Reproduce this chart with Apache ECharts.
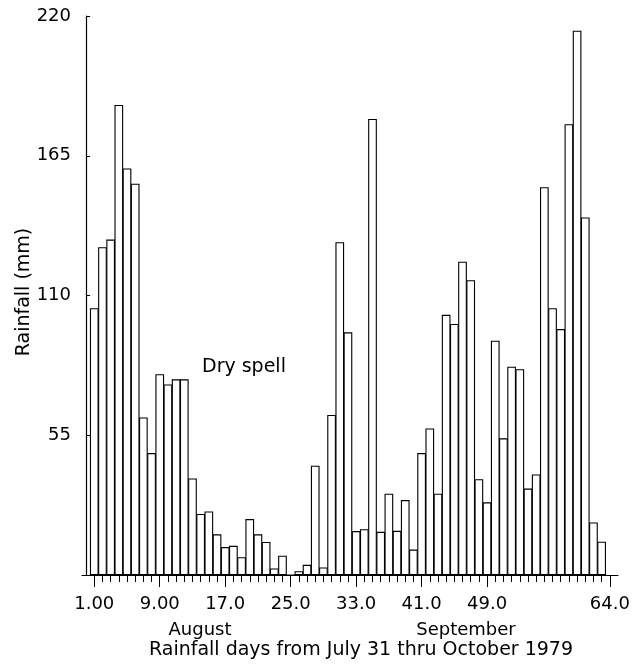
<!DOCTYPE html>
<html>
<head>
<meta charset="utf-8">
<script src="https://cdn.jsdelivr.net/npm/echarts@6/dist/echarts.min.js"></script>
<style>
html,body{margin:0;padding:0;background:#fff;}
#chart{width:640px;height:670px;}
</style>
</head>
<body>
<div id="chart"></div>
<script>
// Day numbers (x positions of bars)
const days = [1,2,3,4,5,6,7,8,9,10,11,12,13,14,15,16,17,18,19,20,21,22,23,24,25,26,27,28,29,30,31,32,33,34,35,36,37,38,39,40,41,42,43,44,45,46,47,48,49,50,51,52,53,54,55,56,57,58,59,60,61,62,63];
// Rainfall (mm) per day
const rainfall = [105,129,132,185,160,154,62,48,79,75,77,77,38,24,25,16,11,11.5,7,22,16,13,2.6,7.6,0,1.5,4,43,3,63,131,95.5,17.3,18,179.5,17,32,17.4,29.5,10,48,57.7,32,102.4,98.8,123.3,116,37.7,28.6,92.2,53.8,82,81,34,39.6,152.6,105,96.8,177.4,214.2,140.7,20.7,13.1];
// Minor ticks (every day) and labelled major ticks
const tickDays = [1,2,3,4,5,6,7,8,9,10,11,12,13,14,15,16,17,18,19,20,21,22,23,24,25,26,27,28,29,30,31,32,33,34,35,36,37,38,39,40,41,42,43,44,45,46,47,48,49,50,51,52,53,54,55,56,57,58,59,60,61,62,63,64];
const majorDays = [1,9,17,25,33,41,49,64];
const xTickLabels = ['1.00','9.00','17.0','25.0','33.0','41.0','49.0','64.0'];
const yTicks = [55,110,165,220];

const FONT = 'DejaVu Sans';
const chart = echarts.init(document.getElementById('chart'), null, {renderer:'canvas'});
const option = {
  animation: false,
  backgroundColor: '#fff',
  grid: {left: 82, right: 22, top: 16, bottom: 95},
  xAxis: [
    {
      type: 'value', min: -0.5, max: 65,
      axisLine: {show: true, onZero: false, lineStyle: {color: '#000', width: 1.2}},
      axisTick: {show: true, customValues: tickDays, length: 7, lineStyle: {color: '#000', width: 1}},
      axisLabel: {show: false},
      splitLine: {show: false}
    },
    {
      type: 'value', min: -0.5, max: 65, position: 'bottom',
      axisLine: {show: false},
      axisTick: {show: true, customValues: majorDays, length: 12, lineStyle: {color: '#000', width: 1}},
      axisLabel: {
        show: true, customValues: majorDays, margin: 20,
        color: '#000', fontSize: 18, fontFamily: FONT,
        formatter: function (v) { const i = majorDays.indexOf(v); return i >= 0 ? xTickLabels[i] : ''; }
      },
      splitLine: {show: false}
    }
  ],
  yAxis: {
    type: 'value', min: 0, max: 220, interval: 55,
    axisLine: {show: true, lineStyle: {color: '#000', width: 1.2}},
    axisTick: {show: true, inside: true, length: 4, lineStyle: {color: '#000'}},
    axisLabel: {
      margin: 11, color: '#000', fontSize: 18, fontFamily: FONT,
      formatter: function (v) { return yTicks.indexOf(v) >= 0 ? String(v) : ''; }
    },
    splitLine: {show: false}
  },
  series: [{
    type: 'bar',
    xAxisIndex: 0,
    barWidth: 8.7,
    data: days.map(function (d, i) { return [d, rainfall[i]]; }),
    itemStyle: {color: '#fff', borderColor: '#000', borderWidth: 1.1}
  }],
  graphic: [
    {type: 'text', x: 202, y: 367, style: {text: 'Dry spell', fill: '#000', font: '19px "DejaVu Sans"', align: 'left', verticalAlign: 'middle', textAlign: 'left', textVerticalAlign: 'middle'}},
    {type: 'text', x: 200, y: 630, style: {text: 'August', fill: '#000', font: '18px "DejaVu Sans"', align: 'center', verticalAlign: 'middle', textAlign: 'center', textVerticalAlign: 'middle'}},
    {type: 'text', x: 466, y: 630, style: {text: 'September', fill: '#000', font: '18px "DejaVu Sans"', align: 'center', verticalAlign: 'middle', textAlign: 'center', textVerticalAlign: 'middle'}},
    {type: 'text', x: 361, y: 650, style: {text: 'Rainfall days from July 31 thru October 1979', fill: '#000', font: '19px "DejaVu Sans"', align: 'center', verticalAlign: 'middle', textAlign: 'center', textVerticalAlign: 'middle'}},
    {type: 'text', x: 24, y: 292, rotation: Math.PI / 2, style: {text: 'Rainfall (mm)', fill: '#000', font: '19px "DejaVu Sans"', align: 'center', verticalAlign: 'middle', textAlign: 'center', textVerticalAlign: 'middle'}}
  ]
};
chart.setOption(option);
</script>
</body>
</html>
